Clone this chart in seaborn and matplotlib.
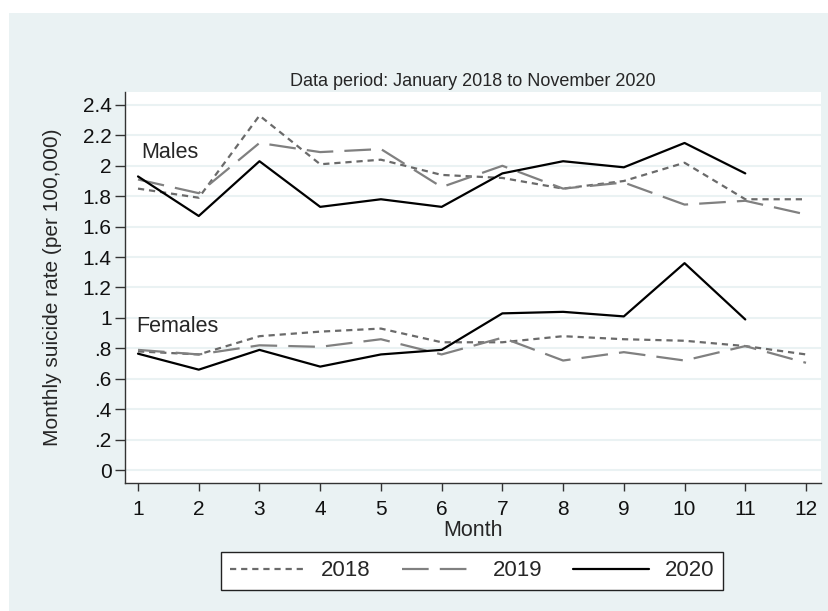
import numpy as np
import pandas as pd
import matplotlib
matplotlib.use("Agg")
import matplotlib.pyplot as plt
from matplotlib.lines import Line2D
from matplotlib.patches import Rectangle
import seaborn as sns

months = list(range(1, 13))
years = ["2018", "2019", "2020"]
male_2018 = [1.85, 1.79, 2.33, 2.01, 2.04, 1.94, 1.92, 1.85, 1.90, 2.02, 1.78, 1.78]
male_2019 = [1.91, 1.82, 2.15, 2.09, 2.11, 1.86, 2.00, 1.85, 1.89, 1.745, 1.77, 1.68]
male_2020 = [1.93, 1.67, 2.03, 1.73, 1.78, 1.73, 1.95, 2.03, 1.99, 2.15, 1.95]
female_2018 = [0.78, 0.76, 0.88, 0.91, 0.93, 0.84, 0.84, 0.88, 0.86, 0.85, 0.815, 0.76]
female_2019 = [0.79, 0.76, 0.82, 0.81, 0.86, 0.76, 0.87, 0.72, 0.775, 0.72, 0.815, 0.705]
female_2020 = [0.765, 0.66, 0.79, 0.68, 0.76, 0.79, 1.03, 1.04, 1.01, 1.36, 0.99]
yticks = [0, 0.2, 0.4, 0.6, 0.8, 1.0, 1.2, 1.4, 1.6, 1.8, 2.0, 2.2, 2.4]
ytick_labels = ["0", ".2", ".4", ".6", ".8", "1", "1.2", "1.4", "1.6", "1.8", "2", "2.2", "2.4"]

rows = []
for sex, series in [("Males", [male_2018, male_2019, male_2020]),
                    ("Females", [female_2018, female_2019, female_2020])]:
    for yr, vals in zip(years, series):
        for m, v in zip(months, vals):
            rows.append({"sex": sex, "year": yr, "month": m, "rate": v})
df = pd.DataFrame(rows)

sns.set_theme(style="white")
plt.rcParams["font.family"] = ["Liberation Sans", "DejaVu Sans"]

fig = plt.figure(figsize=(8.29, 6.11), dpi=100, facecolor="white")
bg = "#EAF2F3"
fig.patches.append(Rectangle((9 / 829, 0), 1 - 9 / 829, (611 - 13) / 611,
                             transform=fig.transFigure, facecolor=bg,
                             edgecolor="none", zorder=-10))

ax = fig.add_axes([125.5 / 829, 1 - 483 / 611, (821 - 125.5) / 829, (483 - 92) / 611])
ax.set_facecolor("white")

palette = {"2018": "#6a6a6a", "2019": "#808080", "2020": "#000000"}
dashes = {"2018": (2.8, 2.2), "2019": (12, 5), "2020": ""}
sns.lineplot(data=df, x="month", y="rate", hue="year", style="year",
             units="sex", estimator=None, palette=palette, dashes=dashes,
             linewidth=1.6, legend=False, ax=ax)

fs = 15
ax.set_xlim(0.794, 12.247)
ax.set_ylim(-0.085, 2.485)
ax.set_xticks(months)
ax.set_xticklabels([str(m) for m in months], fontsize=fs)
ax.set_yticks(yticks)
ax.set_yticklabels(ytick_labels, fontsize=fs)
ax.yaxis.grid(True, color=bg, linewidth=1.5)
ax.xaxis.grid(False)
ax.set_axisbelow(True)
for s in ["top", "right"]:
    ax.spines[s].set_visible(False)
for s in ["left", "bottom"]:
    ax.spines[s].set_color("#333333")
    ax.spines[s].set_linewidth(1.0)
ax.tick_params(axis="x", direction="out", length=6, width=1.0, color="#333333",
               bottom=True, pad=6, labelcolor="#111111")
ax.tick_params(axis="y", direction="out", length=7, width=1.0, color="#333333",
               left=True, pad=3, labelcolor="#111111")
ax.set_xlabel("Month", fontsize=fs + 0.5, labelpad=1)
ax.set_ylabel("Monthly suicide rate (per 100,000)", fontsize=fs, labelpad=15)
ax.set_title("Data period: January 2018 to November 2020", fontsize=13, pad=4)

ax.text(1.05, 2.085, "Males", fontsize=fs + 0.5, va="center", ha="left")
ax.text(0.97, 0.945, "Females", fontsize=fs + 0.5, va="center", ha="left")

handles = [Line2D([0], [0], color=palette[y], lw=1.6,
                  dashes=dashes[y] if dashes[y] else (None, None),
                  linestyle="--" if dashes[y] else "-") for y in years]
leg = fig.legend(handles, years, loc="center", ncol=3,
                 bbox_to_anchor=(472 / 829, 1 - 571 / 611), fontsize=16,
                 frameon=True, fancybox=False, edgecolor="#222222",
                 facecolor="white", framealpha=1, handlelength=3.4,
                 columnspacing=1.4, handletextpad=0.7, borderpad=0.4)
leg.get_frame().set_linewidth(1.0)

fig.savefig("out.png", dpi=100, facecolor="white")
